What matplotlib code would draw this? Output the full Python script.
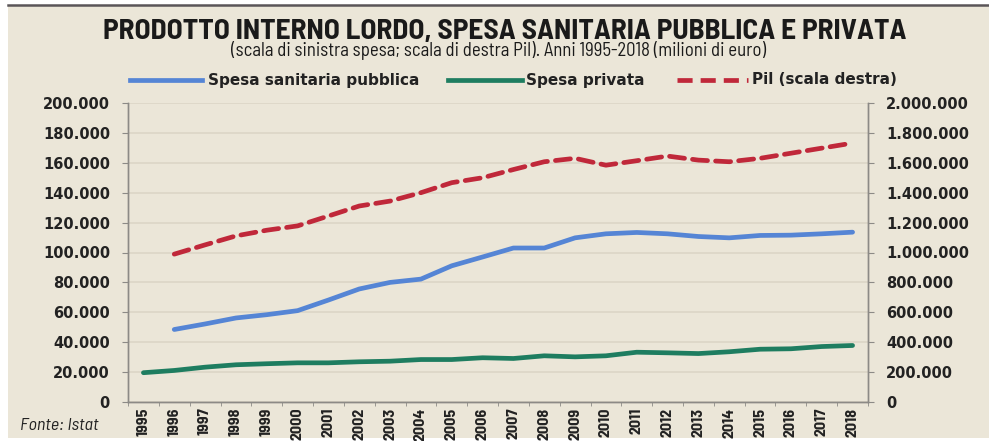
import os
import numpy as np
import matplotlib.pyplot as plt
from matplotlib.lines import Line2D
from matplotlib.ticker import FuncFormatter, FixedLocator
from matplotlib import font_manager as fm

# data (milioni di euro)
years = [str(y) for y in range(1995, 2019)]
spesa_pubblica = [np.nan, 48500, 52200, 56200, 58400, 61100, 68200, 75600, 80000, 82200,
                  91100, 97000, 103000, 103000, 109800, 112500, 113400, 112500, 110700,
                  109800, 111400, 111600, 112500, 113600]
spesa_privata = [19600, 21100, 23300, 24900, 25600, 26200, 26200, 26900, 27300, 28400,
                 28400, 29600, 29100, 30900, 30200, 30900, 33300, 32900, 32400, 33600,
                 35300, 35600, 37100, 37800]
pil = [np.nan, 989000, 1051000, 1111000, 1149000, 1178000, 1244000, 1311000, 1344000,
       1400000, 1467000, 1500000, 1555000, 1607000, 1630000, 1584000, 1614000, 1645000,
       1618000, 1607000, 1630000, 1664000, 1698000, 1732000]
labels = ['Spesa sanitaria pubblica', 'Spesa privata', 'Pil (scala destra)']

bg = '#ebe6d8'
c_pub = '#5585d5'
c_priv = '#1e7d60'
c_pil = '#c0283a'
spine_c = '#8c8a86'

files = [f.fname for f in fm.fontManager.ttflist]


def find_font(name):
    for fn in files:
        if os.path.basename(fn).lower() == name.lower():
            return fn
    return None


# condensed faces: Barlow Semi Condensed, else Barlow Condensed, else DejaVu Sans Condensed
faces = None
for prefix, scale in [('BarlowSemiCondensed-', 1.0), ('BarlowCondensed-', 1.15)]:
    got = [find_font(prefix + s + '.ttf') for s in ('Bold', 'Regular', 'Italic')]
    if all(got):
        faces, shrink = got, scale
        break
if faces is None:
    faces = [find_font('DejaVuSansCondensed-Bold.ttf'), find_font('DejaVuSansCondensed.ttf'),
             find_font('DejaVuSansCondensed-Oblique.ttf')]
    shrink = 0.82
f_bold, f_reg, f_ital = faces


def fp(fname, size):
    if fname is None:
        return fm.FontProperties(family='DejaVu Sans', size=size * 0.75)
    return fm.FontProperties(fname=fname, size=size * shrink)


fig = plt.figure(figsize=(9.89, 4.41), dpi=100)
fig.patch.set_facecolor('white')
# beige panel + top rule
fig.add_artist(plt.Rectangle((8 / 989, 3 / 441), 1, 432 / 441, transform=fig.transFigure,
                             facecolor=bg, edgecolor='none', zorder=-10))
fig.add_artist(Line2D([8 / 989, 1], [436 / 441, 436 / 441], color='#5a5558', lw=1.8, zorder=-9))

ax = fig.add_axes([128 / 989, 39 / 441, 740 / 989, 299 / 441])
ax.set_facecolor(bg)
ax2 = ax.twinx()

x = np.arange(len(years))
ax.plot(x, spesa_pubblica, color=c_pub, lw=3.4, solid_capstyle='round', zorder=3)
ax.plot(x, spesa_privata, color=c_priv, lw=3.4, solid_capstyle='round', zorder=3)
ax2.plot(x, pil, color=c_pil, lw=3.4, dashes=(3.2, 1.7), dash_capstyle='round', zorder=3)

ax.set_xlim(-0.5, len(years) - 0.5)
ax.set_ylim(0, 200000)
ax2.set_ylim(0, 2000000)
ax.set_yticks(np.arange(0, 200001, 20000))
ax2.set_yticks(np.arange(0, 2000001, 200000))
fmt = FuncFormatter(lambda v, p: '{:,.0f}'.format(v).replace(',', '.'))
ax.yaxis.set_major_formatter(fmt)
ax2.yaxis.set_major_formatter(fmt)
ax.grid(axis='y', color='#dcd6c6', lw=1.2)
ax.set_axisbelow(True)

ax.set_xticks(x)
ax.set_xticklabels(years, rotation=90)
for lab in ax.get_xticklabels():
    lab.set_fontproperties(fp(f_bold, 11.5))
    lab.set_color('#222222')
ax.xaxis.set_minor_locator(FixedLocator(np.arange(-0.5, len(years), 1)))
ax.tick_params(axis='x', which='major', length=0, pad=4)
ax.tick_params(axis='x', which='minor', length=3, color=spine_c)
ax.tick_params(axis='y', length=4, color=spine_c, pad=9, labelsize=10.5)
ax2.tick_params(axis='y', length=4, color=spine_c, pad=9, labelsize=10.5)
for lab in ax.get_yticklabels() + ax2.get_yticklabels():
    lab.set_fontweight('bold')
    lab.set_color('#222222')

for a in (ax, ax2):
    a.spines['top'].set_visible(False)
    for s in ('left', 'right', 'bottom'):
        a.spines[s].set_color(spine_c)
        a.spines[s].set_linewidth(1.0)

fig.text(0.51, 1 - 38.5 / 441, 'PRODOTTO INTERNO LORDO, SPESA SANITARIA PUBBLICA E PRIVATA',
         ha='center', va='baseline', fontproperties=fp(f_bold, 21.2), color='#1a1a1a')
fig.text(0.504, 1 - 56 / 441, '(scala di sinistra spesa; scala di destra Pil). Anni 1995-2018 (milioni di euro)',
         ha='center', va='baseline', fontproperties=fp(f_reg, 13.5), color='#1a1a1a')

# legend, drawn by hand to follow the reference spacing
ly = 1 - 80 / 441
leg = [(130, 202, 208, c_pub, None), (448, 522, 526, c_priv, None), (677, 748, 752, c_pil, (3.2, 1.7))]
for (x0, x1, xt, col, dash), lab in zip(leg, labels):
    ln = Line2D([x0 / 989, x1 / 989], [ly, ly], color=col, lw=3.4, transform=fig.transFigure)
    if dash:
        ln.set_dashes(dash)
    fig.add_artist(ln)
    fig.text(xt / 989, ly, lab, ha='left', va='center', fontsize=11, fontweight='bold', color='#222222')

fig.text(20 / 989, 1 - 425 / 441, 'Fonte: Istat', ha='left', va='center',
         fontproperties=fp(f_ital, 13), color='#222222')

plt.savefig('out.png', dpi=100, facecolor='white')
